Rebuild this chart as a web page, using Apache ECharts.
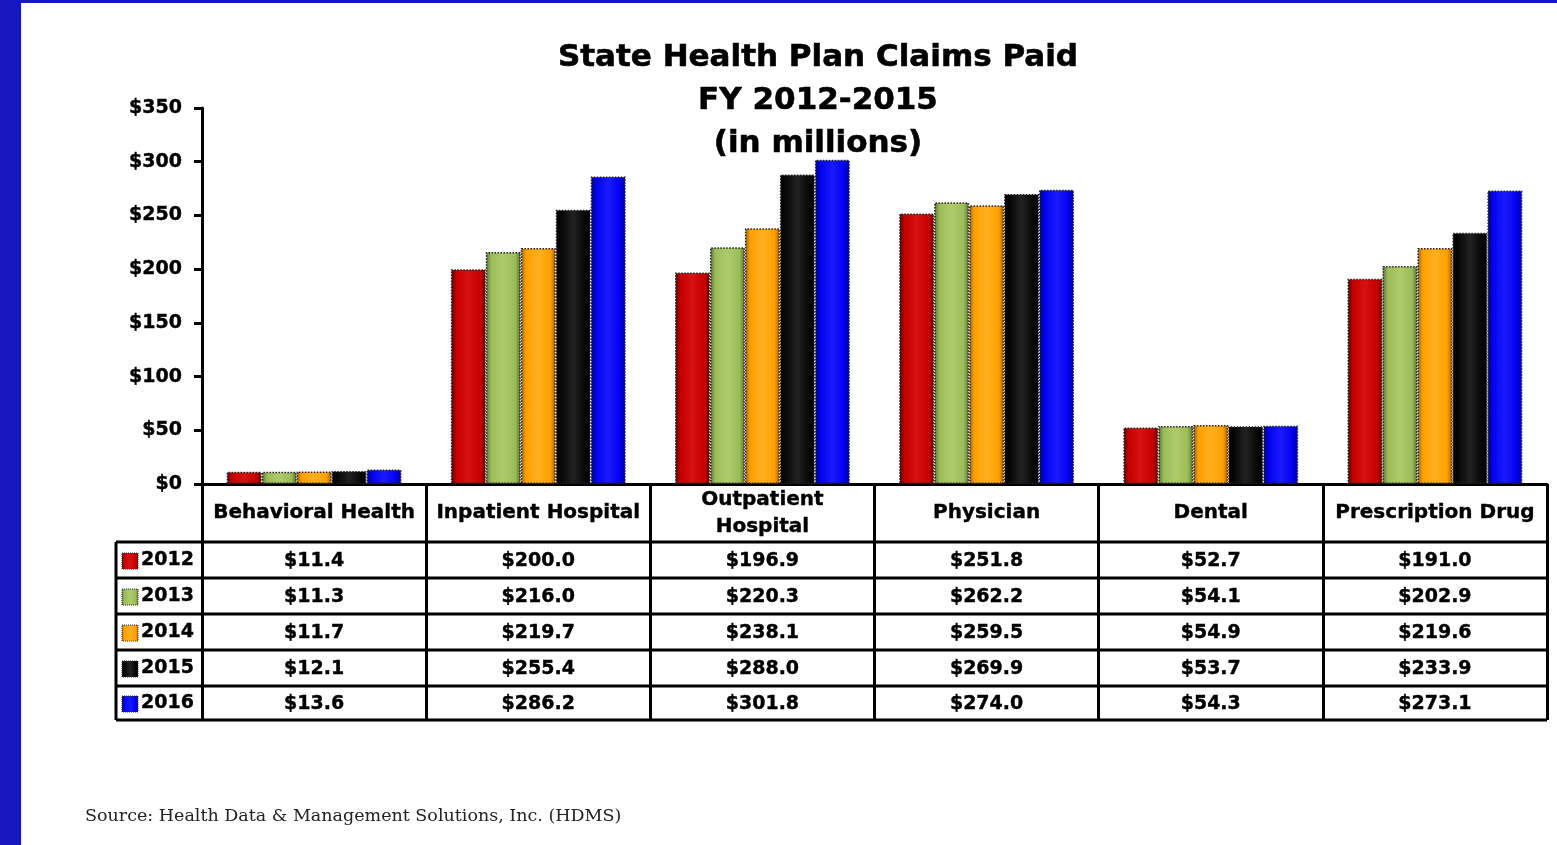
<!DOCTYPE html>
<html>
<head>
<meta charset="utf-8">
<script src="https://cdn.jsdelivr.net/npm/echarts@6/dist/echarts.min.js"></script>
<style>
html,body{margin:0;padding:0;background:#fff;}
#c{width:1557px;height:845px;}
</style>
</head>
<body>
<div id="c"></div>
<script>
const categories = ['Behavioral Health', 'Inpatient Hospital', 'Outpatient\nHospital', 'Physician', 'Dental', 'Prescription Drug'];
const years = ['2012', '2013', '2014', '2015', '2016'];
const v2012 = [11.4, 200.0, 196.9, 251.8, 52.7, 191.0];
const v2013 = [11.3, 216.0, 220.3, 262.2, 54.1, 202.9];
const v2014 = [11.7, 219.7, 238.1, 259.5, 54.9, 219.6];
const v2015 = [12.1, 255.4, 288.0, 269.9, 53.7, 233.9];
const v2016 = [13.6, 286.2, 301.8, 274.0, 54.3, 273.1];
const yTicks = [0, 50, 100, 150, 200, 250, 300, 350];
const titleLines = ['State Health Plan Claims Paid', 'FY 2012-2015', '(in millions)'];
const sourceText = 'Source: Health Data & Management Solutions, Inc. (HDMS)';

const seriesValues = [v2012, v2013, v2014, v2015, v2016];
const palette = [
  {dark: '#5e0000', base: '#c40000', light: '#d81010'},
  {dark: '#566e2a', base: '#9bbb59', light: '#aecb6c'},
  {dark: '#a05e00', base: '#ffa000', light: '#ffb020'},
  {dark: '#000000', base: '#050505', light: '#222222'},
  {dark: '#000080', base: '#0000ee', light: '#1a1aff'}
];
function grad(p) {
  return new echarts.graphic.LinearGradient(0, 0, 1, 0, [
    {offset: 0, color: p.dark},
    {offset: 0.15, color: p.base},
    {offset: 0.5, color: p.light},
    {offset: 0.85, color: p.base},
    {offset: 1, color: p.dark}
  ]);
}
const FONT = 'DejaVu Sans';
const chart = echarts.init(document.getElementById('c'), null, {renderer: 'canvas'});
const GRID = {left: 202, right: 10, top: 108, bottom: 361};

chart.setOption({
  animation: false,
  backgroundColor: '#ffffff',
  grid: GRID,
  xAxis: {
    type: 'category',
    data: categories,
    axisLine: {show: true, lineStyle: {color: '#000', width: 3}},
    axisTick: {show: true, interval: 0, length: 236, lineStyle: {color: '#000', width: 3}},
    axisLabel: {
      interval: 0, margin: 29, verticalAlign: 'middle', lineHeight: 27,
      color: '#000', fontFamily: FONT, fontWeight: 'bold', fontSize: 20,
      textBorderColor: '#000', textBorderWidth: 0.4
    },
    splitLine: {show: false}
  },
  yAxis: {
    type: 'value', min: 0, max: 350, interval: 50,
    axisLine: {show: true, lineStyle: {color: '#000', width: 3}},
    axisTick: {show: true, length: 8, lineStyle: {color: '#000', width: 3}},
    axisLabel: {
      margin: 20, color: '#000', fontFamily: FONT, fontWeight: 'bold', fontSize: 19,
      textBorderColor: '#000', textBorderWidth: 0.4,
      formatter: v => '$' + v
    },
    splitLine: {show: false}
  },
  series: seriesValues.map((vals, i) => ({
    type: 'bar',
    name: years[i],
    data: vals,
    barGap: '0%',
    barCategoryGap: '22%',
    z: 3,
    itemStyle: {
      color: grad(palette[i]),
      borderColor: '#222',
      borderWidth: 1.5,
      borderType: 'dotted'
    }
  }))
});

const W = 1557;
const rightX = W - GRID.right;
const rowLines = [542, 578, 614, 650, 686, 720];
const legendLeft = 116;
const els = [];

els.push({type: 'rect', shape: {x: 0, y: 0, width: 21, height: 845}, style: {fill: '#1717bf'}, z: 10});
els.push({type: 'rect', shape: {x: 0, y: 0, width: W, height: 3}, style: {fill: '#1717bf'}, z: 10});

titleLines.forEach((t, i) => {
  els.push({
    type: 'text', z: 1,
    style: {
      text: t, x: 818, y: 58 + i * 43, align: 'center', verticalAlign: 'middle',
      fill: '#000', font: 'bold 31px "' + FONT + '"', stroke: '#000', lineWidth: 0.6
    }
  });
});

rowLines.forEach(y => {
  els.push({type: 'line', shape: {x1: legendLeft, y1: y, x2: rightX, y2: y}, style: {stroke: '#000', lineWidth: 3}, z: 5});
});
els.push({type: 'line', shape: {x1: legendLeft, y1: rowLines[0], x2: legendLeft, y2: rowLines[rowLines.length - 1]}, style: {stroke: '#000', lineWidth: 3}, z: 5});

years.forEach((yr, r) => {
  const cy = (rowLines[r] + rowLines[r + 1]) / 2 + 1;
  els.push({
    type: 'rect', z: 6,
    shape: {x: 122, y: cy - 8, width: 16, height: 16},
    style: {fill: grad(palette[r]), stroke: '#333', lineWidth: 1, lineDash: [1, 1]}
  });
  els.push({
    type: 'text', z: 6,
    style: {text: yr, x: 141, y: cy - 1, align: 'left', verticalAlign: 'middle', fill: '#000', font: 'bold 19px "' + FONT + '"', stroke: '#000', lineWidth: 0.4}
  });
  seriesValues[r].forEach((v, c) => {
    const px = chart.convertToPixel({xAxisIndex: 0}, c);
    els.push({
      type: 'text', z: 6,
      style: {text: '$' + v.toFixed(1), x: px, y: cy, align: 'center', verticalAlign: 'middle', fill: '#000', font: 'bold 19px "' + FONT + '"', stroke: '#000', lineWidth: 0.4}
    });
  });
});

els.push({
  type: 'text', z: 6,
  style: {text: sourceText, x: 85, y: 816, align: 'left', verticalAlign: 'middle', fill: '#222', font: '17.5px "DejaVu Serif"'}
});

chart.setOption({graphic: els});
</script>
</body>
</html>
